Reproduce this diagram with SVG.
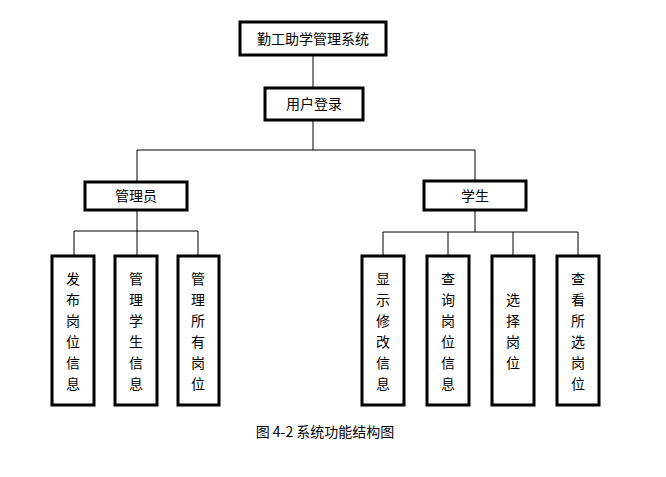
<svg xmlns="http://www.w3.org/2000/svg" width="666" height="477" viewBox="0 0 666 477">
<style>
rect{fill:#fff;stroke:#000;stroke-width:3}
text{font-family:"Noto Sans CJK SC",sans-serif;font-size:14px;fill:#000;text-anchor:middle}
.c line{stroke:#000;stroke-width:1}
</style>
<rect x="0" y="0" width="666" height="477" style="stroke:none"/>
<g class="c" id="connectors">
<line x1="313" y1="55" x2="313" y2="88"/>
<line x1="313" y1="120" x2="313" y2="150"/>
<line x1="137" y1="150" x2="475" y2="150"/>
<line x1="137" y1="150" x2="137" y2="182"/>
<line x1="475" y1="150" x2="475" y2="181"/>
<line x1="137" y1="210" x2="137" y2="256"/>
<line x1="74" y1="231" x2="198" y2="231"/>
<line x1="74" y1="231" x2="74" y2="256"/>
<line x1="198" y1="231" x2="198" y2="256"/>
<line x1="475" y1="210" x2="475" y2="232"/>
<line x1="383" y1="232" x2="578" y2="232"/>
<line x1="383" y1="232" x2="383" y2="256"/>
<line x1="448" y1="232" x2="448" y2="256"/>
<line x1="513" y1="232" x2="513" y2="256"/>
<line x1="578" y1="232" x2="578" y2="256"/>
</g>
<g id="n-title"><rect x="240" y="22" width="146" height="33"/><text x="313" y="44">勤工助学管理系统</text></g>
<g id="n-login"><rect x="265" y="88" width="98" height="32"/><text x="314" y="109">用户登录</text></g>
<g id="n-admin"><rect x="85" y="182" width="102" height="28"/><text x="136" y="201">管理员</text></g>
<g id="n-student"><rect x="424" y="181" width="102" height="29"/><text x="475" y="201">学生</text></g>
<g id="n-a1"><rect x="52" y="256" width="42" height="149"/><text x="73"><tspan x="73" y="284">发</tspan><tspan x="73" y="305">布</tspan><tspan x="73" y="326">岗</tspan><tspan x="73" y="347">位</tspan><tspan x="73" y="368">信</tspan><tspan x="73" y="389">息</tspan></text></g>
<g id="n-a2"><rect x="115" y="256" width="42" height="149"/><text x="136"><tspan x="136" y="284">管</tspan><tspan x="136" y="305">理</tspan><tspan x="136" y="326">学</tspan><tspan x="136" y="347">生</tspan><tspan x="136" y="368">信</tspan><tspan x="136" y="389">息</tspan></text></g>
<g id="n-a3"><rect x="178" y="256" width="41" height="149"/><text x="198"><tspan x="198" y="284">管</tspan><tspan x="198" y="305">理</tspan><tspan x="198" y="326">所</tspan><tspan x="198" y="347">有</tspan><tspan x="198" y="368">岗</tspan><tspan x="198" y="389">位</tspan></text></g>
<g id="n-s1"><rect x="362" y="256" width="42" height="149"/><text x="383"><tspan x="383" y="284">显</tspan><tspan x="383" y="305">示</tspan><tspan x="383" y="326">修</tspan><tspan x="383" y="347">改</tspan><tspan x="383" y="368">信</tspan><tspan x="383" y="389">息</tspan></text></g>
<g id="n-s2"><rect x="427" y="256" width="42" height="149"/><text x="448"><tspan x="448" y="284">查</tspan><tspan x="448" y="305">询</tspan><tspan x="448" y="326">岗</tspan><tspan x="448" y="347">位</tspan><tspan x="448" y="368">信</tspan><tspan x="448" y="389">息</tspan></text></g>
<g id="n-s3"><rect x="492" y="256" width="42" height="149"/><text x="513"><tspan x="513" y="305">选</tspan><tspan x="513" y="326">择</tspan><tspan x="513" y="347">岗</tspan><tspan x="513" y="368">位</tspan></text></g>
<g id="n-s4"><rect x="557" y="256" width="42" height="149"/><text x="578"><tspan x="578" y="284">查</tspan><tspan x="578" y="305">看</tspan><tspan x="578" y="326">所</tspan><tspan x="578" y="347">选</tspan><tspan x="578" y="368">岗</tspan><tspan x="578" y="389">位</tspan></text></g>
<text x="325" y="437">图 4-2 系统功能结构图</text>
</svg>
